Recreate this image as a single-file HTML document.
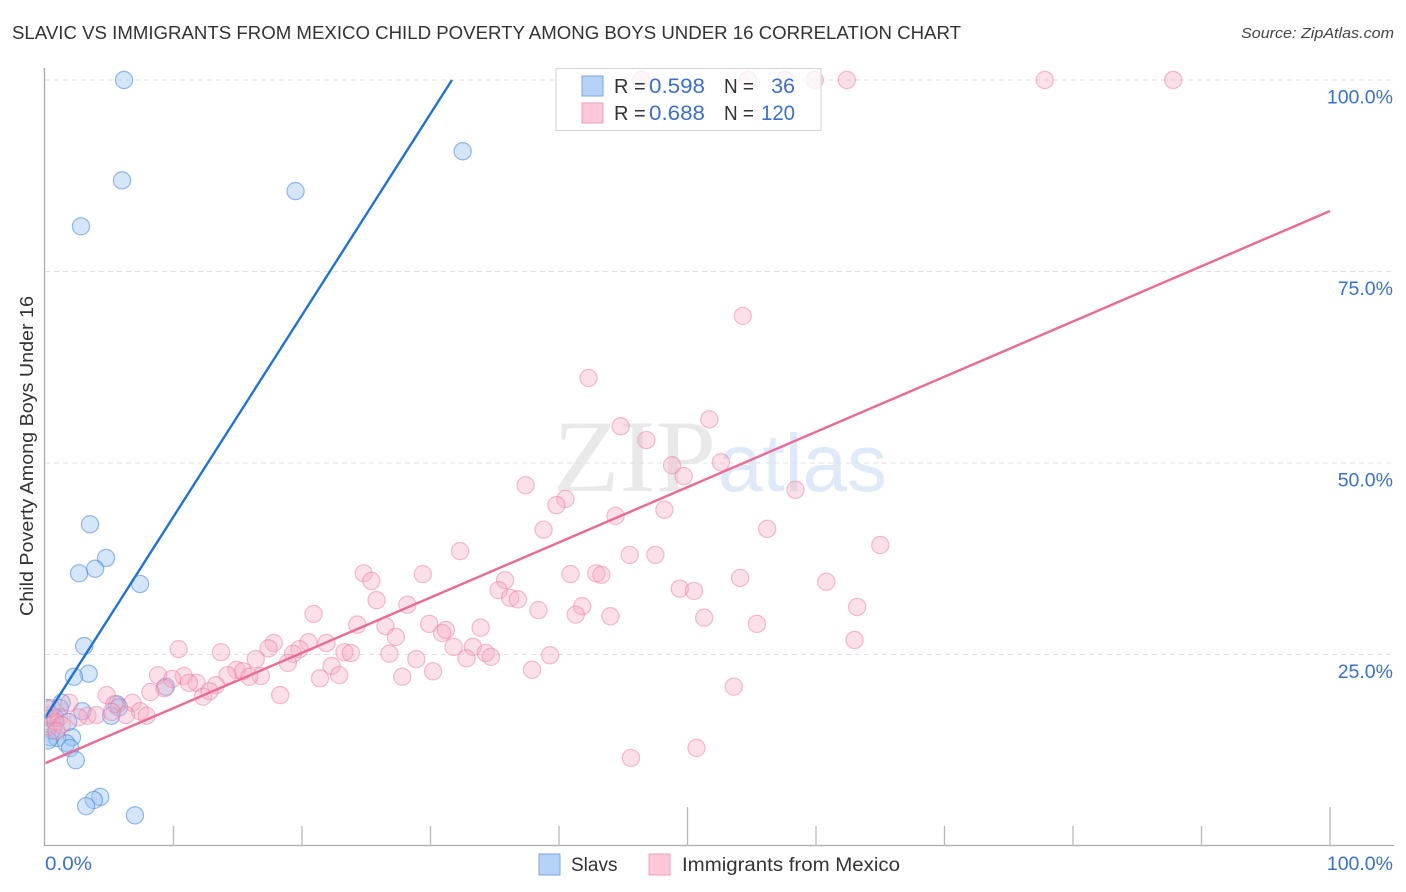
<!DOCTYPE html>
<html lang="en">
<head>
<meta charset="utf-8">
<title>Slavic vs Immigrants from Mexico Child Poverty Correlation Chart</title>
<style>
html,body{margin:0;padding:0;background:#fff;width:1406px;height:892px;overflow:hidden}
svg{display:block;font-family:"Liberation Sans",sans-serif}
</style>
</head>
<body>
<svg id="chart" xmlns="http://www.w3.org/2000/svg" width="1406" height="892" viewBox="0 0 1406 892">
  <defs>
    <clipPath id="plot-clip"><rect x="45.5" y="60" width="1349" height="785"/></clipPath>
  </defs>
  <rect x="0" y="0" width="1406" height="892" fill="#ffffff"/>
  <text x="12" y="39" font-size="18.5" fill="#333333" textLength="949" lengthAdjust="spacingAndGlyphs">SLAVIC VS IMMIGRANTS FROM MEXICO CHILD POVERTY AMONG BOYS UNDER 16 CORRELATION CHART</text>
  <text x="1241" y="38" font-size="15" font-style="italic" fill="#444444" textLength="153" lengthAdjust="spacingAndGlyphs">Source: ZipAtlas.com</text>
  <text transform="translate(33 456) rotate(-90)" font-size="18" fill="#333333" text-anchor="middle" textLength="320" lengthAdjust="spacingAndGlyphs">Child Poverty Among Boys Under 16</text>

  <g>
    <text x="553" y="491" font-family="'Liberation Serif',serif" font-size="103" fill="#e9e9e9" textLength="163" lengthAdjust="spacingAndGlyphs">ZIP</text>
    <text x="718" y="491" font-size="82" fill="#deeaf8" textLength="169" lengthAdjust="spacingAndGlyphs">atlas</text>
  </g>

  <g id="grid"></g>
  <g id="axes"></g>
  <g clip-path="url(#plot-clip)">
    <g id="slavs-points"></g>
    <g id="mexico-points"></g>
    <g id="trends"></g>
  </g>
  <g id="tick-labels"></g>

  <g>
    <rect x="556" y="68.5" width="265" height="62" fill="#ffffff" fill-opacity="0.75" stroke="#d8d8d8" stroke-width="1.2"/>
    <rect x="582" y="76" width="21" height="20" fill="#b5d2f7" stroke="#7aa6e0" stroke-width="1"/>
    <rect x="582" y="103" width="21" height="20" fill="#fcc8d9" stroke="#f0a0ba" stroke-width="1"/>
    <g font-size="20">
      <text x="614" y="93" fill="#333333">R =</text>
      <text x="649" y="93" fill="#3a70d0" font-size="21.5" textLength="56" lengthAdjust="spacingAndGlyphs">0.598</text>
      <text x="724" y="93" fill="#333333" textLength="30" lengthAdjust="spacingAndGlyphs">N =</text>
      <text x="795" y="93" fill="#3a70d0" text-anchor="end" font-size="21.5">36</text>
      <text x="614" y="120" fill="#333333">R =</text>
      <text x="649" y="120" fill="#3a70d0" font-size="21.5" textLength="56" lengthAdjust="spacingAndGlyphs">0.688</text>
      <text x="724" y="120" fill="#333333" textLength="30" lengthAdjust="spacingAndGlyphs">N =</text>
      <text x="761" y="120" fill="#3a70d0" font-size="21.5" textLength="34" lengthAdjust="spacingAndGlyphs">120</text>
    </g>
  </g>

  <g>
    <rect x="539" y="854" width="21" height="21" fill="#b5d2f7" stroke="#7aa6e0" stroke-width="1"/>
    <text x="571" y="871" font-size="19" fill="#333333">Slavs</text>
    <rect x="649" y="854" width="21" height="21" fill="#fcc8d9" stroke="#f0a0ba" stroke-width="1"/>
    <text x="682" y="871" font-size="19" fill="#333333" textLength="218" lengthAdjust="spacingAndGlyphs">Immigrants from Mexico</text>
  </g>
</svg>
<script>
const xTickValues = [10,20,30,40,50,60,70,80,90,100];
const xMajorTicks = [50,100];
const yGridValues = [25,50,75,100];
const yTickLabels = ["25.0%","50.0%","75.0%","100.0%"];
const xEndLabels = ["0.0%","100.0%"];
const slavsX = [6.15,5.99,2.8,19.5,32.5,3.5,4.75,3.9,2.65,7.4,3.05,3.4,2.25,1.3,9.4,5.6,5.75,2.9,5.15,0.15,1.15,0.4,0.8,2.1,0.4,0.95,1.65,1.95,2.4,4.3,3.8,3.2,7.0,0.55,0.25,1.8];
const slavsY = [100,86.9,80.9,85.5,90.7,42.0,37.6,36.2,35.6,34.2,26.1,22.5,22.1,18.7,20.8,18.5,18.1,17.6,17.0,18.0,18.0,16.7,16.7,14.2,14.2,14.1,13.4,12.8,11.2,6.4,6.0,5.2,4.0,15.1,13.8,16.2];
const mexicoX = [46.4,54.7,57.6,59.9,62.4,77.8,87.8,54.3,42.3,51.7,44.8,46.8,48.8,52.6,49.7,37.4,40.5,39.8,58.4,48.2,44.4,38.8,56.2,65.0,32.3,45.5,47.5,24.8,25.4,29.4,40.9,42.9,43.3,54.1,60.8,35.8,35.3,49.4,50.5,25.8,36.2,36.8,28.2,38.4,41.8,41.3,44.0,51.3,63.2,20.9,24.3,26.5,29.9,31.2,30.9,33.9,55.4,27.3,63.0,21.9,10.4,13.7,17.8,17.4,20.5,19.8,19.3,23.3,23.8,26.8,28.9,33.3,31.8,34.3,34.7,32.8,39.3,18.9,16.4,22.3,22.9,21.4,27.8,30.2,37.9,14.9,15.4,16.8,15.9,14.2,8.8,10.8,9.9,11.8,11.2,13.3,53.6,18.3,8.2,9.3,12.3,12.8,4.8,1.9,6.8,5.4,7.4,7.9,6.3,3.3,4.0,5.2,2.6,0.3,1.1,0.4,0.8,1.3,50.7,45.6,0.5,0.9];
const mexicoY = [100,100,100,100,100,100,100,69.2,61.1,55.7,54.8,53.0,49.7,50.1,48.3,47.1,45.3,44.5,46.5,43.9,43.1,41.3,41.4,39.3,38.5,38.0,38.0,35.6,34.6,35.5,35.5,35.6,35.4,35.0,34.5,34.7,33.4,33.6,33.3,32.1,32.4,32.2,31.5,30.8,31.3,30.2,30.0,29.8,31.2,30.3,28.9,28.7,29.0,28.2,27.8,28.5,29.0,27.3,26.9,26.5,25.7,25.3,26.5,25.8,26.6,25.7,25.1,25.3,25.2,25.1,24.4,26.0,26.0,25.2,24.7,24.5,24.9,23.9,24.4,23.5,22.3,21.9,22.1,22.8,23.0,23.0,22.8,22.2,22.1,22.3,22.3,22.2,21.8,21.3,21.3,21.0,20.8,19.7,20.1,20.6,19.5,20.2,19.7,18.7,18.7,18.5,17.6,17.0,17.1,17.0,17.1,17.5,16.8,15.6,16.8,17.1,16.2,15.8,12.8,11.5,18.0,15.0];
const slavsTrendX = [0,31.67];
const slavsTrendY = [16.7,100];
const mexicoTrendX = [0,100];
const mexicoTrendY = [10.8,82.9];

const NS = "http://www.w3.org/2000/svg";
function xAxis(v){ return 45 + v * 12.85; }
function yAxis(v){ return 846 - v * 7.66; }
function make(tag, attrs, parent){
  const el = document.createElementNS(NS, tag);
  for (const k in attrs) el.setAttribute(k, attrs[k]);
  parent.appendChild(el);
  return el;
}
const gridG = document.getElementById("grid");
const axesG = document.getElementById("axes");
const labelsG = document.getElementById("tick-labels");

yGridValues.forEach(function(v, i){
  const line = make("line", {x1:45, x2:1394, y1:yAxis(v), y2:yAxis(v), stroke:"#e0e0e0", "stroke-width":1, "stroke-dasharray":"5 4"}, gridG);
  
  
  const label = make("text", {x:1393, y:yAxis(v)+23.5, "text-anchor":"end", "font-size":19.5, fill:"#3a70d0"}, labelsG);
  
  
  label.textContent = yTickLabels[i];
});

const yAxisLine = make("line", {x1:44.5, x2:44.5, y1:68, y2:846, stroke:"#aaaaaa", "stroke-width":1.3}, axesG);


const xAxisLine = make("line", {x1:44, x2:1394, y1:845.5, y2:845.5, stroke:"#aaaaaa", "stroke-width":1.3}, axesG);


xTickValues.forEach(function(v){
  const major = xMajorTicks.indexOf(v) >= 0;
  const tick = make("line", {x1:xAxis(v), x2:xAxis(v), y1: major ? 807 : 826, y2:846, stroke:"#b8b8b8", "stroke-width":1.3}, axesG);
  
  
});

const xLabelLeft = make("text", {x:xAxis(0), y:870, "font-size":19.5, fill:"#3a70d0", textLength:47, lengthAdjust:"spacingAndGlyphs"}, labelsG);


xLabelLeft.textContent = xEndLabels[0];
const xLabelRight = make("text", {x:1393, y:870, "font-size":19.5, fill:"#3a70d0", "text-anchor":"end"}, labelsG);


xLabelRight.textContent = xEndLabels[1];

const mexicoG = document.getElementById("mexico-points");
mexicoX.forEach(function(v, i){
  const c = make("circle", {cx:xAxis(v), cy:yAxis(mexicoY[i]), r:8.6, fill:"#f8a9c2", "fill-opacity":0.36, stroke:"#e8709a", "stroke-opacity":0.45, "stroke-width":1.2}, mexicoG);
  
  
});
const slavsG = document.getElementById("slavs-points");
slavsX.forEach(function(v, i){
  const c = make("circle", {cx:xAxis(v), cy:yAxis(slavsY[i]), r:8.6, fill:"#9cc3f2", "fill-opacity":0.42, stroke:"#3f83dc", "stroke-opacity":0.55, "stroke-width":1.2}, slavsG);
  
  
});

const trendsG = document.getElementById("trends");
const slavsLine = make("line", {x1:xAxis(slavsTrendX[0]), y1:yAxis(slavsTrendY[0]), x2:xAxis(slavsTrendX[1]), y2:yAxis(slavsTrendY[1]), stroke:"#2272d6", "stroke-width":2.4}, trendsG);


const mexicoLine = make("line", {x1:xAxis(mexicoTrendX[0]), y1:yAxis(mexicoTrendY[0]), x2:xAxis(mexicoTrendX[1]), y2:yAxis(mexicoTrendY[1]), stroke:"#ea6a97", "stroke-width":2.4}, trendsG);


</script>
</body>
</html>
